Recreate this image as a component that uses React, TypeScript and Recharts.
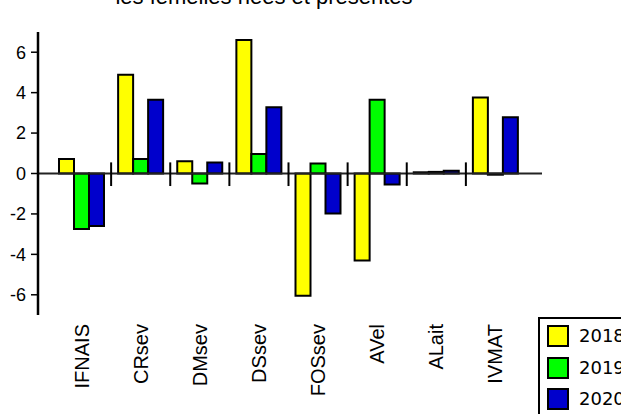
import React from 'react';
import { BarChart, Bar, XAxis, YAxis, ReferenceLine } from 'recharts';

const categories = ['IFNAIS', 'CRsev', 'DMsev', 'DSsev', 'FOSsev', 'AVel', 'ALait', 'IVMAT'];
const values2018 = [0.72, 4.88, 0.6, 6.6, -6.05, -4.3, 0.06, 3.76];
const values2019 = [-2.75, 0.72, -0.5, 0.97, 0.5, 3.65, 0.08, -0.06];
const values2020 = [-2.6, 3.65, 0.55, 3.28, -1.98, -0.55, 0.14, 2.78];
const seriesNames = ['2018', '2019', '2020'];
const seriesColors = ['#FFFF00', '#00FF00', '#0000CC'];
const yTicks = [-6, -4, -2, 0, 2, 4, 6];
const title = 'les femelles nées et présentes';

const data = categories.map((name, i) => ({
  name,
  pos: i + 0.5,
  '2018': values2018[i],
  '2019': values2019[i],
  '2020': values2020[i],
}));

const separators = categories.slice(1).map((_, i) => i + 1);

const CatTick = (props: any) => {
  const { x, y, payload } = props;
  return (
    <g transform={`translate(${x},${y})`}>
      <text
        transform="rotate(-90)"
        x={-9}
        y={0}
        dy="0.35em"
        textAnchor="end"
        fontSize={20}
        fontFamily="'Liberation Sans', Arial, sans-serif"
        fill="#000"
      >
        {payload.value}
      </text>
    </g>
  );
};

export default function App() {
  return (
    <div style={{ position: 'absolute', left: 0, top: 0, width: 621, height: 414, overflow: 'hidden', background: '#fff' }}>
      <BarChart
        width={621}
        height={414}
        data={data}
        margin={{ top: 32, right: 79, left: 0, bottom: 0 }}
        barGap={0}
        barSize={15}
      >
        <XAxis
          dataKey="name"
          height={99}
          axisLine={false}
          tickLine={false}
          tickSize={0}
          tickMargin={0}
          interval={0}
          padding={{ left: 14, right: 17 }}
          tick={<CatTick />}
        />
        <XAxis
          xAxisId="sep"
          dataKey="pos"
          type="number"
          domain={[0, categories.length]}
          allowDataOverflow
          hide
          padding={{ left: 14, right: 17 }}
        />
        <YAxis
          domain={[-7, 7]}
          ticks={yTicks}
          interval={0}
          width={38}
          tickSize={7}
          tickMargin={5}
          allowDataOverflow
          axisLine={{ stroke: '#000', strokeWidth: 2.5 }}
          tickLine={{ stroke: '#000', strokeWidth: 1.5 }}
          tick={{ fill: '#000', fontSize: 18, fontFamily: "'Liberation Sans', Arial, sans-serif" }}
        />
        <ReferenceLine y={0} stroke="#222" strokeWidth={2} />
        {separators.map((k) => (
          <ReferenceLine
            key={k}
            xAxisId="sep"
            segment={[{ x: k, y: 0.55 }, { x: k, y: -0.62 }]}
            stroke="#000"
            strokeWidth={2}
          />
        ))}
        {seriesNames.map((s, i) => (
          <Bar
            key={s}
            dataKey={s}
            fill={seriesColors[i]}
            stroke="#000"
            strokeWidth={2}
            isAnimationActive={false}
          />
        ))}
      </BarChart>
      <svg style={{ position: 'absolute', left: 0, top: 0 }} width={621} height={20}>
        <text x={264} y={4} textAnchor="middle" fontSize={22} fontFamily="'Liberation Sans', Arial, sans-serif" fill="#000">
          {title}
        </text>
      </svg>
      <div
        style={{
          position: 'absolute',
          left: 538,
          top: 317,
          width: 120,
          height: 130,
          border: '2px solid #000',
          boxSizing: 'border-box',
          background: '#fff',
        }}
      >
        {seriesNames.map((s, i) => (
          <div
            key={s}
            style={{ position: 'absolute', left: 7, top: 6 + i * 31.7, display: 'flex', alignItems: 'center', height: 22 }}
          >
            <div style={{ width: 22, height: 22, boxSizing: 'border-box', border: '2px solid #000', background: seriesColors[i] }} />
            <span style={{ marginLeft: 10, fontSize: 18, fontFamily: "'DejaVu Sans', sans-serif", color: '#000', lineHeight: '22px' }}>
              {s}
            </span>
          </div>
        ))}
      </div>
    </div>
  );
}
